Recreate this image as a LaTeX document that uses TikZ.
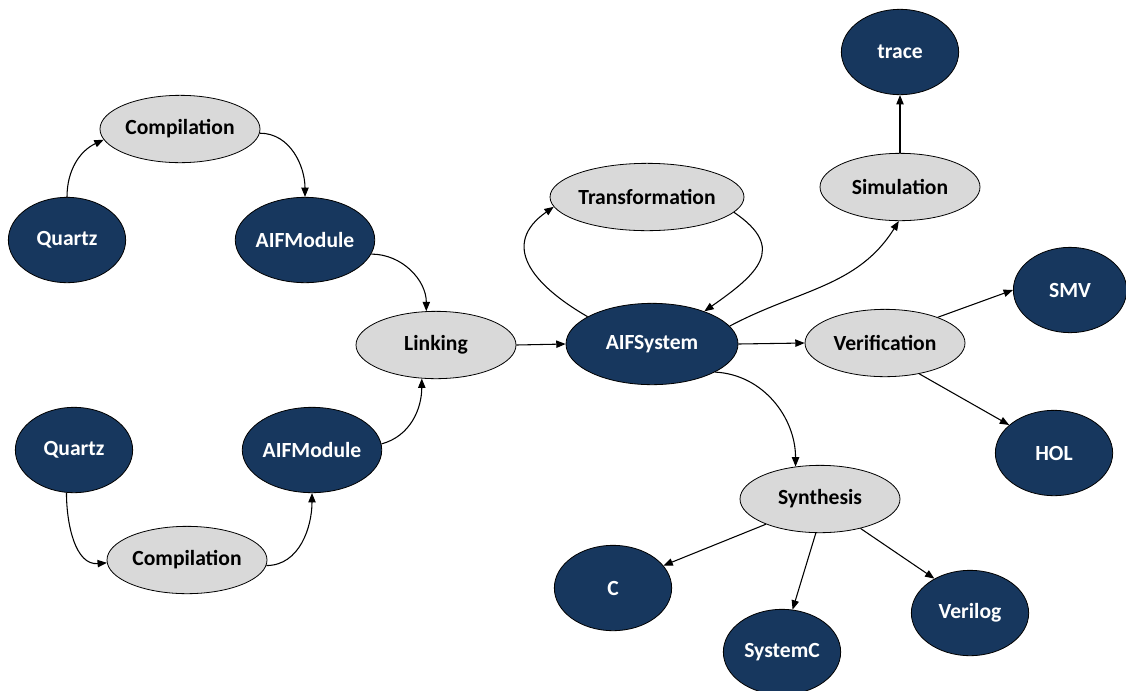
\documentclass[tikz,border=0pt]{standalone}
\usepackage{fontspec}
\setmainfont{Carlito}
\usetikzlibrary{shapes.geometric,arrows.meta}
\definecolor{darkblue}{HTML}{17375E}
\definecolor{lightgrey}{HTML}{D9D9D9}
\begin{document}
\begin{tikzpicture}[x=0.75pt,y=0.75pt,
  base/.style={ellipse,draw=black,line width=0.6pt,inner sep=0pt,
    font=\fontsize{16.2}{19}\selectfont\bfseries},
  grey/.style={base,fill=lightgrey,text=black,minimum width=120pt,minimum height=50.5pt},
  dark/.style={base,fill=darkblue,text=white,minimum width=88pt,minimum height=64pt},
  arr/.style={-{Triangle[length=7pt,width=5.5pt]},line width=0.8pt,black}]
\useasboundingbox (0,0) rectangle (1126,-690);
% nodes
\node[grey] (comp1) at (180,-129) {Compilation};
\node[dark] (quartz1) at (67,-240) {Quartz};
\node[dark] (mod1) at (305,-240) {AIFModule};
\node[grey] (link) at (436,-345) {Linking};
\node[dark] (quartz2) at (74,-450) {Quartz};
\node[dark] (mod2) at (312,-450) {AIFModule};
\node[grey] (comp2) at (187,-560) {Compilation};
\node[dark,minimum width=129pt,minimum height=61pt] (sys) at (652,-344) {AIFSystem};
\node[grey] (trans) at (647,-197) {Transformation};
\node[grey] (sim) at (900,-187) {Simulation};
\node[dark] (trace) at (900,-52) {trace};
\node[grey] (ver) at (885,-343) {Verification};
\node[dark,minimum width=85pt] (smv) at (1070,-290) {SMV};
\node[dark] (hol) at (1054,-453) {HOL};
\node[grey] (syn) at (820,-499) {Synthesis};
\node[dark] (c) at (613,-588) {C};
\node[dark] (sysc) at (782,-652) {SystemC};
\node[dark] (verilog) at (970,-613) {Verilog};
% connectors
\draw[arr] (quartz1.north) to[out=90,in=205] (comp1.188);
\draw[arr] (comp1.-3) to[out=0,in=90] (mod1.north);
\draw[arr] (mod1.-12) to[out=0,in=90] (link.106);
\draw[arr] (mod2.5) to[out=15,in=-90] (link.-113);
\draw[arr] (quartz2.-100) to[out=-90,in=185] (comp2.182);
\draw[arr] (comp2.-4) to[out=0,in=-90] (mod2.south);
\draw[arr] (link.east) -- (sys.west);
\draw[arr] (sys.157) to[out=150,in=215,looseness=1.45] (trans.186);
\draw[arr] (trans.-10) to[out=-34,in=35,looseness=1.6] (sys.32);
\draw[arr] (sys.13) to[out=28,in=238] (sim.-92);
\draw[arr] (sim.north) -- (trace.south);
\draw[arr] (sys.east) -- (ver.west);
\draw[arr] (ver.26) -- (smv.180);
\draw[arr] (ver.-42) -- (hol.148);
\draw[arr] (sys.-24) to[out=-3,in=90] (syn.127);
\draw[arr] (syn.205) -- (c.24);
\draw[arr] (syn.-97) -- (sysc.76);
\draw[arr] (syn.-36) -- (verilog.136);
\end{tikzpicture}
\end{document}
